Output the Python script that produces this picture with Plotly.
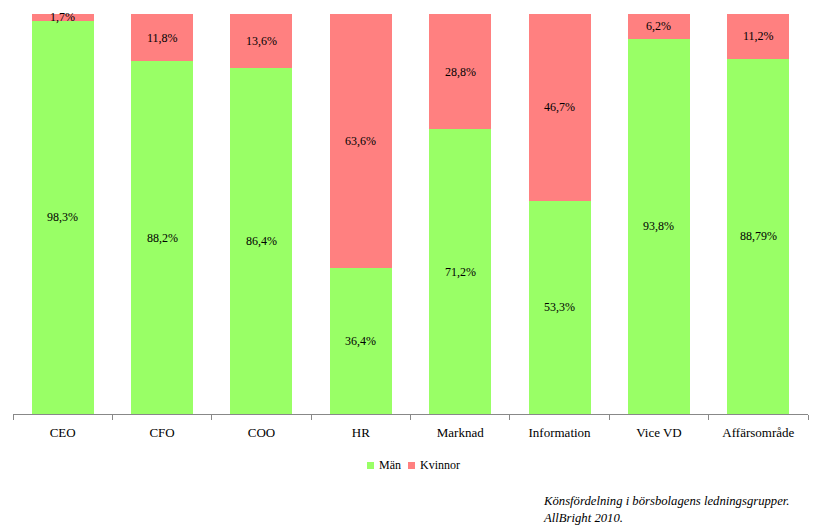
import plotly.graph_objects as go

categories = ["CEO", "CFO", "COO", "HR", "Marknad", "Information", "Vice VD", "Affärsområde"]
man = [98.3, 88.2, 86.4, 36.4, 71.2, 53.3, 93.8, 88.79]
kvinnor = [1.7, 11.8, 13.6, 63.6, 28.8, 46.7, 6.2, 11.2]
man_labels = ["98,3%", "88,2%", "86,4%", "36,4%", "71,2%", "53,3%", "93,8%", "88,79%"]
kvinnor_labels = ["1,7%", "11,8%", "13,6%", "63,6%", "28,8%", "46,7%", "6,2%", "11,2%"]
series_names = ["Män", "Kvinnor"]

GREEN = "#99ff66"
RED = "#ff8080"
FONT = "'Liberation Serif', 'Times New Roman', Times, serif"

# plot area geometry in pixels
L, R, T, B = 13, 12, 14, 118
W, H = 820, 532
PW, PH = W - L - R, H - T - B


def px_x(px):
    return (px - L) / PW


def px_y(py):
    return (H - B - py) / PH


fig = go.Figure()
fig.add_trace(go.Bar(x=categories, y=man, name=series_names[0],
                     marker=dict(color=GREEN, line=dict(width=0))))
fig.add_trace(go.Bar(x=categories, y=kvinnor, name=series_names[1],
                     marker=dict(color=RED, line=dict(width=0))))

annotations = []
for c, m, k, ml, kl in zip(categories, man, kvinnor, man_labels, kvinnor_labels):
    annotations.append(dict(x=c, y=m / 2, xref="x", yref="y", text=ml, showarrow=False,
                            font=dict(family=FONT, size=12, color="black")))
    annotations.append(dict(x=c, y=m + k / 2, xref="x", yref="y", text=kl, showarrow=False,
                            font=dict(family=FONT, size=12, color="black")))

annotations.append(dict(x=px_x(541), y=px_y(509), xref="paper", yref="paper",
                        xanchor="left", yanchor="middle", align="left", showarrow=False,
                        text="Könsfördelning i börsbolagens ledningsgrupper.<br>AllBright 2010.",
                        font=dict(family=FONT, size=12.7, color="black", style="italic")))

# compact legend (small square swatches next to labels)
shapes = []
legend_items = [(series_names[0], GREEN, 367), (series_names[1], RED, 408)]
for name, col, x0 in legend_items:
    shapes.append(dict(type="rect", xref="paper", yref="paper",
                       x0=px_x(x0), x1=px_x(x0 + 7), y0=px_y(469), y1=px_y(462),
                       fillcolor=col, line=dict(width=0)))
    annotations.append(dict(x=px_x(x0 + 10), y=px_y(465.5), xref="paper", yref="paper",
                            xanchor="left", yanchor="middle", showarrow=False, text=name,
                            font=dict(family=FONT, size=12, color="black")))

fig.update_layout(
    width=W, height=H,
    barmode="stack", bargap=0.375,
    margin=dict(l=L, r=R, t=T, b=B),
    paper_bgcolor="white", plot_bgcolor="white",
    font=dict(family=FONT, size=12, color="black"),
    showlegend=False,
    annotations=annotations,
    shapes=shapes,
)
fig.update_xaxes(showline=True, linecolor="#888888", linewidth=1, ticks="outside",
                 tickson="boundaries", ticklen=5, tickcolor="#888888", ticklabelstandoff=6,
                 tickfont=dict(family=FONT, size=13, color="black"), showgrid=False)
fig.update_yaxes(range=[0, 100], visible=False, showgrid=False)

fig.write_html("out.html")
